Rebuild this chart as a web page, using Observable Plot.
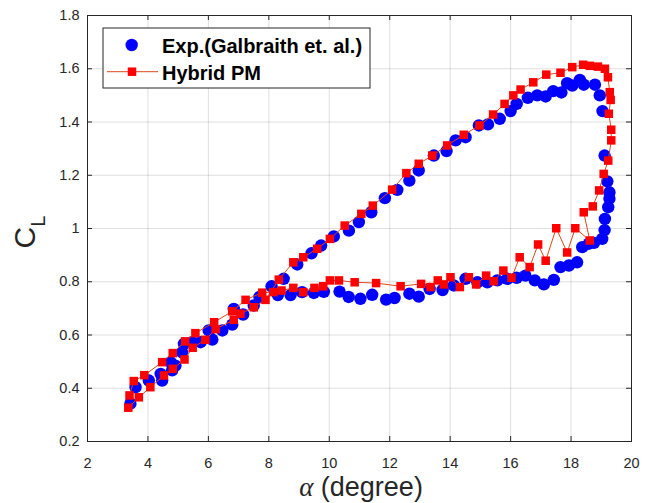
<!DOCTYPE html>
<html><head><meta charset="utf-8">
<script src="https://cdn.jsdelivr.net/npm/d3@7"></script>
<script src="https://cdn.jsdelivr.net/npm/@observablehq/plot@0.6"></script>
<style>body{margin:0;background:#fff} svg{display:block}</style>
</head><body><div id="chart"></div>
<script>
const xTicks = [2,4,6,8,10,12,14,16,18,20];
const yTicks = [0.2,0.4,0.6,0.8,1.0,1.2,1.4,1.6,1.8];
const yTickLabels = ["0.2","0.4","0.6","0.8","1","1.2","1.4","1.6","1.8"];
const seriesNames = ["Exp.(Galbraith et. al.)","Hybrid PM"];

// Experimental data (scatter)
const expAlpha = [3.42,3.59,4.03,4.42,4.47,4.75,4.80,4.91,5.13,5.19,5.46,5.74,6.01,6.13,6.46,6.79,6.84,7.15,7.50,7.69,8.09,8.30,8.49,8.72,8.94,9.10,9.41,9.49,9.73,9.82,10.15,10.34,10.64,10.65,10.98,11.03,11.39,11.42,11.84,11.88,12.16,12.25,12.65,12.65,12.96,12.96,13.32,13.46,13.75,13.88,14.12,14.18,14.51,14.51,14.90,14.95,15.23,15.25,15.56,15.64,15.89,16.00,16.20,16.20,16.49,16.57,16.80,16.88,17.10,17.16,17.41,17.43,17.65,17.68,17.87,17.93,18.04,18.20,18.29,18.37,18.42,18.59,18.76,18.79,18.95,19.04,19.03,19.11,19.12,19.23,19.27,19.27,19.20,19.11];
const expCL = [0.342,0.404,0.429,0.454,0.429,0.498,0.467,0.485,0.535,0.567,0.573,0.573,0.617,0.583,0.617,0.639,0.698,0.677,0.711,0.743,0.783,0.750,0.811,0.750,0.865,0.761,0.907,0.758,0.936,0.762,0.970,0.763,0.743,0.992,1.024,0.736,1.061,0.751,1.114,0.733,0.739,1.145,1.180,0.755,1.218,0.744,0.773,1.274,0.769,1.291,0.786,1.331,1.343,0.811,0.798,1.387,0.798,1.391,0.805,1.412,0.811,1.441,1.468,0.815,0.823,1.491,0.805,1.500,0.790,1.496,1.516,0.807,0.855,1.511,1.546,0.861,1.537,0.873,1.558,0.930,1.540,0.943,0.946,1.540,1.500,1.441,0.961,0.994,1.036,1.080,1.112,1.136,1.177,1.274];

// Hybrid PM (connected, in loop order)
const pmAlpha = [3.35,3.70,4.08,4.53,4.82,5.21,5.48,5.90,6.24,6.84,7.06,7.50,7.89,8.33,8.81,9.14,9.60,10.02,10.51,11.06,11.44,12.08,12.55,12.96,13.41,13.90,14.45,14.97,15.42,15.80,16.09,16.33,16.75,17.18,17.65,18.04,18.40,18.62,18.89,19.12,19.22,19.28,19.31,19.25,19.33,19.33,19.23,19.08,18.93,18.72,18.42,18.62,18.14,17.87,17.51,17.16,16.91,16.63,16.30,16.03,15.76,15.44,15.19,14.86,14.62,14.32,14.01,13.79,13.59,13.35,13.04,12.36,11.55,10.84,10.32,10.02,9.80,9.51,9.14,8.81,8.42,8.15,7.78,7.23,6.79,6.19,5.57,5.23,4.82,4.47,3.88,3.53,3.39];
const pmCL = [0.327,0.366,0.404,0.448,0.473,0.508,0.552,0.582,0.622,0.657,0.680,0.704,0.732,0.808,0.873,0.892,0.924,0.961,1.011,1.055,1.086,1.146,1.208,1.243,1.274,1.312,1.352,1.387,1.428,1.468,1.500,1.522,1.549,1.578,1.585,1.606,1.615,1.611,1.608,1.600,1.568,1.512,1.483,1.431,1.371,1.331,1.255,1.205,1.143,1.083,1.061,0.955,1.001,0.910,1.001,0.879,0.940,0.855,0.892,0.815,0.842,0.802,0.823,0.790,0.817,0.780,0.817,0.790,0.805,0.780,0.792,0.783,0.795,0.798,0.805,0.805,0.783,0.777,0.761,0.777,0.767,0.761,0.759,0.732,0.689,0.648,0.607,0.576,0.532,0.498,0.449,0.427,0.373];

const expData = expAlpha.map((a,i)=>({a, cl: expCL[i]}));
const pmData = pmAlpha.map((a,i)=>({a, cl: pmCL[i]}));

const W=655, H=503, mL=87, mR=24, mT=15, mB=62;
const plotW = W-mL-mR, plotH = H-mT-mB, tk = 5;
const axisColor = "#262626";
const font = "'Liberation Sans', Arial, Helvetica, sans-serif";

const svg = Plot.plot({
  width: W, height: H,
  marginLeft: mL, marginRight: mR, marginTop: mT, marginBottom: mB,
  style: {fontFamily: font, background: "#fff", color: axisColor},
  x: {domain: [2, 20]},
  y: {domain: [0.2, 1.8]},
  marks: [
    Plot.gridX(xTicks, {stroke: axisColor, strokeOpacity: 0.15}),
    Plot.gridY(yTicks, {stroke: axisColor, strokeOpacity: 0.15}),
    Plot.dot(expData, {x: "a", y: "cl", r: 6.2, fill: "#0000ff", stroke: "none"}),
    Plot.line(pmData, {x: "a", y: "cl", stroke: "#e0471c", strokeWidth: 1}),
    Plot.dot(pmData, {x: "a", y: "cl", symbol: "square", r: 4.8, fill: "#ff0000", stroke: "none"}),
    Plot.frame({stroke: axisColor}),
    Plot.tickX(xTicks, {x: d => d, insetTop: plotH - tk, stroke: axisColor}),
    Plot.tickX(xTicks, {x: d => d, insetBottom: plotH - tk, stroke: axisColor}),
    Plot.tickY(yTicks, {y: d => d, insetRight: plotW - tk, stroke: axisColor}),
    Plot.tickY(yTicks, {y: d => d, insetLeft: plotW - tk, stroke: axisColor}),
    Plot.axisX(xTicks, {tickSize: 0, tickPadding: 16, fontSize: 14.5, label: null, tickFormat: d => String(d), fill: axisColor}),
    Plot.axisY(yTicks, {tickSize: 0, tickPadding: 8, fontSize: 14.5, label: null, tickFormat: d => yTickLabels[yTicks.indexOf(d)], fill: axisColor})
  ]
});

const s = d3.select(svg);
// x label
const xl = s.append("text").attr("x", 361).attr("y", 496).attr("text-anchor", "middle")
  .attr("font-size", 27).attr("fill", axisColor).attr("font-family", font);
xl.append("tspan").attr("font-style", "italic").attr("font-family", "'Liberation Serif', serif").text("α");
xl.append("tspan").text(" (degree)");
// y label
const yl = s.append("text").attr("transform", "translate(35,232) rotate(-90)").attr("text-anchor", "middle")
  .attr("font-size", 30).attr("fill", axisColor).attr("font-family", font);
yl.append("tspan").text("C");
yl.append("tspan").attr("dy", 10).attr("font-size", 20).text("L");

// legend
const lg = s.append("g").attr("text-anchor", "start");
lg.append("rect").attr("x", 103).attr("y", 28).attr("width", 267).attr("height", 60)
  .attr("fill", "#fff").attr("stroke", axisColor).attr("stroke-width", 1);
lg.append("circle").attr("cx", 131.7).attr("cy", 45).attr("r", 6.2).attr("fill", "#0000ff");
lg.append("text").attr("x", 162).attr("y", 53).attr("font-size", 20).attr("font-weight", "bold")
  .attr("text-anchor", "start").attr("font-family", font).attr("fill", "#000").text(seriesNames[0]);
lg.append("line").attr("x1", 107).attr("x2", 158).attr("y1", 71.7).attr("y2", 71.7)
  .attr("stroke", "#e0471c").attr("stroke-width", 1);
lg.append("rect").attr("x", 132 - 4.25).attr("y", 71.7 - 4.25).attr("width", 8.5).attr("height", 8.5).attr("fill", "#ff0000");
lg.append("text").attr("x", 162).attr("y", 80).attr("font-size", 20).attr("font-weight", "bold")
  .attr("text-anchor", "start").attr("font-family", font).attr("fill", "#000").text(seriesNames[1]);

document.getElementById("chart").appendChild(svg);
</script>
</body></html>
